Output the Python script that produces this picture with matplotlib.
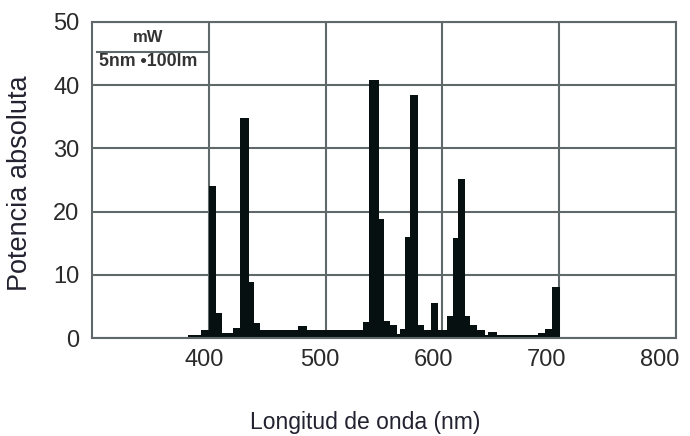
import matplotlib
matplotlib.use("Agg")
import matplotlib.pyplot as plt
from matplotlib.transforms import ScaledTranslation

# Spectral power distribution, 5 nm bands (bin edges in nm, power per band)
wavelength_edges = [382, 393.7, 400, 406, 411, 421, 427, 434, 439, 444,
                    476, 484, 532, 537, 545.3, 550, 555, 561, 564, 568,
                    572.4, 579, 584, 590, 596.6, 603.7, 609, 613.2, 619.5, 623.8,
                    629.5, 636.6, 639.4, 646.6, 682, 688, 693.7, 700.5]
power = [0.5, 1.3, 24, 4, 0.8, 1.6, 34.8, 8.9, 2.4, 1.3,
         1.9, 1.3, 2.6, 40.8, 18.8, 2.7, 2.0, 0.7, 1.4, 16,
         38.4, 2.0, 1.3, 5.6, 1.2, 3.5, 15.8, 25.2, 3.5, 2.0,
         1.2, 0.5, 0.9, 0.4, 0.85, 1.5, 8.0]

x_ticks = [400, 500, 600, 700, 800]
y_ticks = [0, 10, 20, 30, 40, 50]

grid_color = "#606969"
bar_color = "#071010"
text_color = "#222230"
font = ["Liberation Sans", "DejaVu Sans"]

fig = plt.figure(figsize=(6.9, 4.36), dpi=100)
ax = fig.add_axes([92 / 690, 1 - 338 / 436, 584 / 690, 316 / 436])

ax.stairs(power, wavelength_edges, fill=True, color=bar_color, baseline=0, zorder=3)

ax.set_xlim(300, 800)
ax.set_ylim(0, 50)
ax.set_xticks(x_ticks)
ax.set_yticks(y_ticks)
ax.grid(True, color=grid_color, linewidth=1.5, zorder=1)
ax.set_axisbelow(True)
for sp in ax.spines.values():
    sp.set_color(grid_color)
    sp.set_linewidth(1.5)
    sp.set_zorder(4)

ax.tick_params(axis="both", length=0, labelcolor="#2a2a2a")
ax.tick_params(axis="x", pad=8)
ax.tick_params(axis="y", pad=9)
for lab in ax.get_xticklabels() + ax.get_yticklabels():
    lab.set_fontfamily(font)
    lab.set_fontsize(17)

# x labels sit slightly left of their grid lines, drifting further toward the right
x_label_shift_pt = [-3, -4.5, -6.5, -9, -12]
for lab, dx in zip(ax.get_xticklabels(), x_label_shift_pt):
    lab.set_transform(lab.get_transform() + ScaledTranslation(dx / 72, 0, fig.dpi_scale_trans))

ax.set_xlabel("Longitud de onda (nm)", fontsize=16.5, family=font, color=text_color)
ax.xaxis.set_label_coords(273 / 584, -0.232)
ax.set_ylabel("Potencia absoluta", fontsize=19.5, family=font, color=text_color)
ax.yaxis.set_label_coords(-59 / 584, 0.49)

# Unit box in the upper-left cell: mW per (5 nm · 100 lm)
ax.text(348, 47.6, "mW", ha="center", va="center", fontsize=12, fontweight="bold",
        family=font, color="#333333", zorder=5)
ax.plot([304, 399], [45.25, 45.25], color=grid_color, linewidth=1.5, zorder=5)
ax.text(348, 43.8, "5nm \u2022100lm", ha="center", va="center", fontsize=12.8,
        fontweight="bold", family=font, color="#333333", zorder=5)

fig.savefig("out.png", dpi=100, facecolor="white")
